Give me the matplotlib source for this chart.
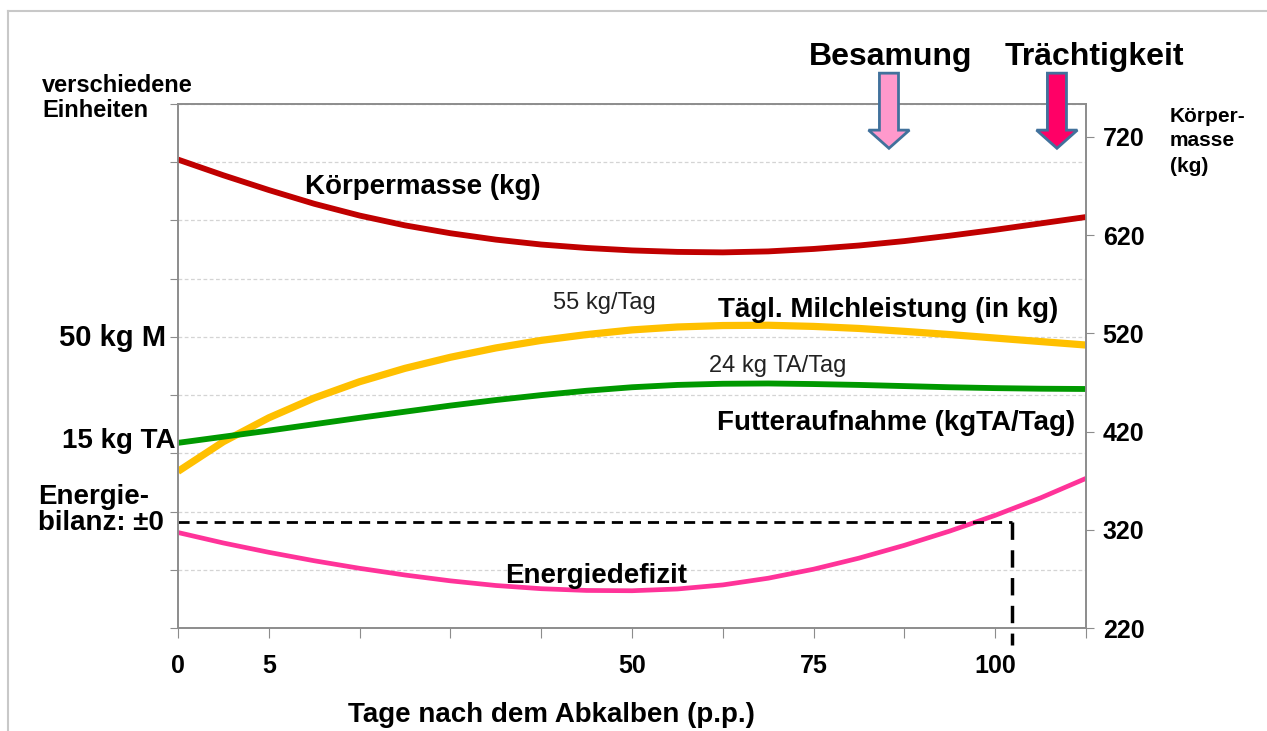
import numpy as np
import matplotlib
matplotlib.use("Agg")
import matplotlib.pyplot as plt
from matplotlib.patches import FancyArrow
from matplotlib.lines import Line2D

plt.rcParams['font.family'] = ['Liberation Sans', 'DejaVu Sans']

# positions along the x axis (11 ticks, values read every half step)
pos = np.arange(21) / 2
tick_pos = list(range(11))
tick_labels = ['0', '5', '', '', '', '50', '', '75', '', '100', '']

# Koerpermasse in kg (right axis)
koerpermasse = [697, 681, 666, 652, 640, 630, 622, 615.5, 610.5, 607, 604.5,
                603, 602.5, 603.5, 606, 609.5, 614, 619.5, 625.5, 632, 638.5]
# other curves in "verschiedene Einheiten" (left axis 0..90)
milch = [26.9, 32.0, 36.1, 39.5, 42.3, 44.6, 46.5, 48.1, 49.4, 50.4, 51.2,
         51.7, 51.95, 52.0, 51.8, 51.45, 50.95, 50.4, 49.8, 49.2, 48.6]
futter = [31.8, 32.85, 33.9, 35.0, 36.1, 37.15, 38.2, 39.15, 40.0, 40.75, 41.35,
          41.75, 41.95, 42.0, 41.9, 41.75, 41.55, 41.35, 41.2, 41.1, 41.05]
energie = [16.4, 14.6, 13.0, 11.55, 10.25, 9.1, 8.1, 7.3, 6.75, 6.45, 6.4,
           6.7, 7.4, 8.55, 10.1, 12.0, 14.2, 16.65, 19.35, 22.35, 25.7]
energie_null = 18.2
bilanz_x = 9.19
besamung_x = 7.83
traechtig_x = 9.68

right_ticks = [220, 320, 420, 520, 620, 720]

W, H = 1267, 731
fx = lambda px: px / W
fy = lambda py: 1 - py / H

fig = plt.figure(figsize=(W / 100, H / 100), dpi=100)
ax = fig.add_axes([fx(178), fy(628), (1086 - 178) / W, (628 - 104) / H])
ax.set_xlim(0, 10)
ax.set_ylim(0, 90)
ax2 = ax.twinx()
ax2.set_ylim(220, 753.6)

gray = '#8c8c8c'
for a in (ax, ax2):
    for s in a.spines.values():
        s.set_color(gray)
        s.set_linewidth(1.2)

ax.set_yticks(range(0, 91, 10))
ax.tick_params(axis='y', direction='out', length=6, color=gray, labelleft=False)
ax.yaxis.grid(True, ls=(0, (3, 2)), color='#d4d4d4', lw=0.9)
ax.set_xticks(tick_pos, tick_labels, fontweight='bold', fontsize=18)
ax.tick_params(axis='x', direction='out', length=7, color=gray, pad=12)

ax2.set_yticks(right_ticks, [str(v) for v in right_ticks], fontweight='bold', fontsize=18)
ax2.tick_params(axis='y', direction='out', length=6, color=gray, pad=6)

# curves
ax2.plot(pos, koerpermasse, color='#C00000', lw=4.2, solid_capstyle='butt')
ax.plot(pos, milch, color='#FFC000', lw=5.2, solid_capstyle='butt')
ax.plot(pos, futter, color='#009900', lw=4.2, solid_capstyle='butt')
ax.plot(pos, energie, color='#FF3399', lw=3.4, solid_capstyle='butt')

# energy balance zero line
ax.plot([0, bilanz_x], [energie_null, energie_null], color='black', lw=2,
        ls=(0, (4, 2.5)))
ax.plot([bilanz_x, bilanz_x], [energie_null, -3], color='black', lw=2.5,
        ls=(0, (5, 3)), clip_on=False)

# arrows for Besamung / Traechtigkeit
for xa, col in ((besamung_x, '#FF99CC'), (traechtig_x, '#FF0066')):
    ax2.add_patch(FancyArrow(xa, 785, 0, -76.5, width=0.21, head_width=0.45,
                             head_length=18.5, length_includes_head=True,
                             fc=col, ec='#41719C', lw=2, clip_on=False, zorder=5))

# labels at the curves
ax.text(1.40, 75.8, 'Körpermasse (kg)', fontsize=20, fontweight='bold', ha='left', va='center')
ax.text(4.70, 55.8, '55 kg/Tag', fontsize=17, ha='center', va='center', color='#222222')
ax.text(7.82, 54.6, 'Tägl. Milchleistung (in kg)', fontsize=20, fontweight='bold',
        ha='center', va='center')
ax.text(6.60, 45.0, '24 kg TA/Tag', fontsize=17, ha='center', va='center', color='#222222')
ax.text(7.91, 35.2, 'Futteraufnahme (kgTA/Tag)', fontsize=20, fontweight='bold',
        ha='center', va='center')
ax.text(4.61, 8.9, 'Energiedefizit', fontsize=20, fontweight='bold', ha='center', va='center')

# labels outside the plot
fig.text(fx(42), fy(98), 'verschiedene\nEinheiten', fontsize=17, fontweight='bold',
         ha='left', va='center', linespacing=1.15)
fig.text(fx(166), fy(338), '50 kg M', fontsize=21, fontweight='bold', ha='right', va='center')
fig.text(fx(176), fy(441), '15 kg TA', fontsize=20, fontweight='bold', ha='right', va='center')
fig.text(fx(38), fy(510), 'Energie-\nbilanz: ±0', fontsize=20, fontweight='bold',
         ha='left', va='center', linespacing=1.05)
fig.text(fx(1170), fy(141), 'Körper-\nmasse\n(kg)', fontsize=15, fontweight='bold',
         ha='left', va='center', linespacing=1.4)
fig.text(fx(891), fy(57), 'Besamung', fontsize=23, fontweight='bold', ha='center', va='center')
fig.text(fx(1094), fy(57), 'Trächtigkeit', fontsize=23, fontweight='bold', ha='center', va='center')
fig.text(fx(551), fy(715), 'Tage nach dem Abkalben (p.p.)', fontsize=20, fontweight='bold',
         ha='center', va='center')

# light frame at left and top
fig.add_artist(Line2D([fx(8), fx(8)], [fy(11), 0], color='#c8c8c8', lw=1.5))
fig.add_artist(Line2D([fx(8), 1], [fy(11), fy(11)], color='#c8c8c8', lw=1.5))

fig.savefig('out.png', dpi=100)
